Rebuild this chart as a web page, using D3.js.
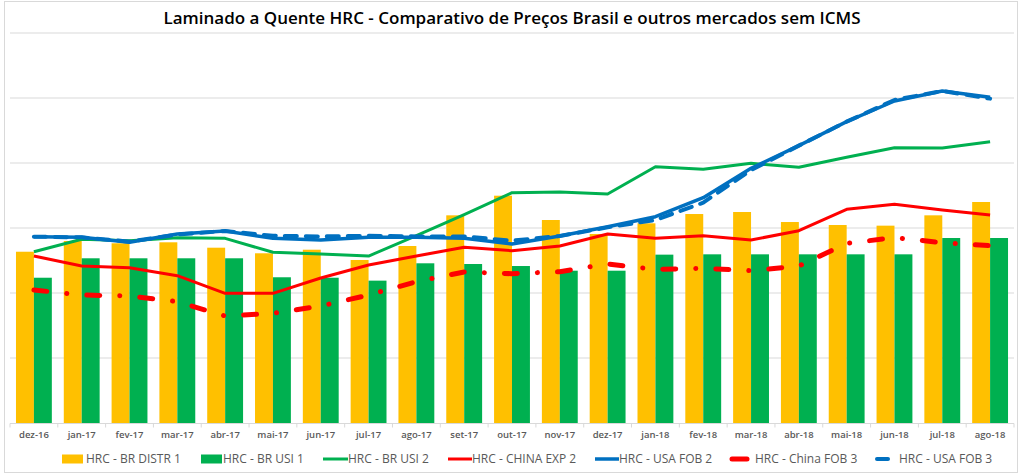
<!DOCTYPE html>
<html><head><meta charset="utf-8">
<script src="https://cdn.jsdelivr.net/npm/d3@7/dist/d3.min.js"></script>
<style>body{margin:0;background:#fff}svg{display:block}</style>
</head><body><svg id="c" width="1024" height="475"></svg>
<script>
const categories = ["dez-16","jan-17","fev-17","mar-17","abr-17","mai-17","jun-17","jul-17","ago-17","set-17","out-17","nov-17","dez-17","jan-18","fev-18","mar-18","abr-18","mai-18","jun-18","jul-18","ago-18"];
const brDistr1 = [2635,2800,2765,2780,2697,2611,2666,2508,2723,3195,3497,3123,2908,3072,3215,3246,3092,3046,3036,3195,3400];
const brUsi1   = [2235,2534,2534,2534,2534,2242,2235,2190,2457,2446,2415,2343,2343,2590,2595,2595,2595,2595,2595,2846,2846];
const brUsi2   = [2635,2826,2805,2851,2841,2626,2600,2569,2882,3205,3543,3554,3523,3943,3903,3995,3934,4088,4236,4231,4328];
const chinaExp2= [2569,2415,2390,2266,1995,1995,2230,2430,2569,2703,2651,2723,2908,2841,2882,2815,2959,3287,3364,3277,3200];
const usaFob2  = [2867,2856,2780,2908,2954,2841,2815,2856,2856,2841,2754,2877,3020,3174,3467,3918,4267,4636,4954,5108,5011];
const chinaFob3= [2046,1969,1954,1867,1646,1687,1800,1969,2174,2323,2297,2328,2446,2364,2380,2343,2415,2764,2851,2774,2728];
const usaFob3  = [2867,2856,2790,2900,2954,2880,2870,2880,2870,2870,2805,2877,3010,3123,3390,3892,4267,4636,4970,5108,4990];
const yTicks = [1000,2000,3000,4000,5000,6000];
const title = "Laminado a Quente HRC - Comparativo de Preços Brasil e outros mercados sem ICMS";

const svg = d3.select("#c");
const font = "'Open Sans', sans-serif";
svg.append("rect").attr("x",4.5).attr("y",1.5).attr("width",1013).attr("height",471).attr("fill","#fff").attr("stroke","#D9D9D9");

const x = d3.scaleBand().domain(categories).range([10,1014]).paddingInner(0.25).paddingOuter(0.125);
const xs = d3.scaleBand().domain(["a","b"]).range([0,x.bandwidth()]);
const y = d3.scaleLinear().domain([0,6000]).range([423,33]);
const cx = c => x(c) + x.bandwidth()/2;

svg.append("g").selectAll("line").data(yTicks).join("line")
  .attr("x1",10).attr("x2",1014).attr("y1",d=>y(d)).attr("y2",d=>y(d))
  .attr("stroke","#D9D9D9").attr("stroke-width",1);

// bars
svg.append("g").selectAll("rect").data(categories).join("rect")
  .attr("x",c=>x(c)+xs("a")).attr("width",xs.bandwidth()).attr("y",(c,i)=>y(brDistr1[i])).attr("height",(c,i)=>y(0)-y(brDistr1[i])).attr("fill","#FFC000");
svg.append("g").selectAll("rect").data(categories).join("rect")
  .attr("x",c=>x(c)+xs("b")).attr("width",xs.bandwidth()).attr("y",(c,i)=>y(brUsi1[i])).attr("height",(c,i)=>y(0)-y(brUsi1[i])).attr("fill","#00B050");

// x axis
const xAxis = d3.axisBottom(x).tickSize(0).tickPadding(8);
const gx = svg.append("g").attr("transform","translate(0,423.5)").call(xAxis);
gx.select(".domain").attr("stroke","#D9D9D9").attr("d","M10,0H1014");
gx.selectAll("text").attr("font-family",font).attr("font-size",9.5).attr("font-weight",600).attr("fill","#595959");
const bounds = d3.range(categories.length+1).map(i=>10+i*(1004/categories.length));
gx.selectAll(".bt").data(bounds).join("line").attr("class","bt").attr("x1",d=>d).attr("x2",d=>d).attr("y1",0).attr("y2",4).attr("stroke","#D9D9D9");

const line = d3.line().x((d,i)=>cx(categories[i])).y(d=>y(d));
const series = [
  {name:"HRC - BR USI 2", data:brUsi2, color:"#00B050", w:3, dash:null},
  {name:"HRC - CHINA EXP 2", data:chinaExp2, color:"#FF0000", w:3, dash:null},
  {name:"HRC - USA FOB 2", data:usaFob2, color:"#0070C0", w:3.5, dash:null},
  {name:"HRC - China FOB 3", data:chinaFob3, color:"#FF0000", w:5, dash:"13,20,0.1,20"},
  {name:"HRC - USA FOB 3", data:usaFob3, color:"#0070C0", w:4, dash:"12,9"}
];
series.forEach(s=>{
  svg.append("path").datum(s.data).attr("d",line).attr("fill","none").attr("stroke",s.color)
    .attr("stroke-width",s.w).attr("stroke-linejoin","round").attr("stroke-linecap",s.dash?"round":"butt")
    .attr("stroke-dasharray",s.dash);
});

// title
svg.append("text").attr("x",512).attr("y",24).attr("text-anchor","middle").attr("font-family",font)
  .attr("font-size",17).attr("font-weight",600).attr("fill","#000").text(title);

// legend
const legend = [
  {name:"HRC - BR DISTR 1", type:"rect", color:"#FFC000", sx:62, sw:21, tx:86},
  {name:"HRC - BR USI 1", type:"rect", color:"#00B050", sx:201, sw:21, tx:223},
  {name:"HRC - BR USI 2", type:"line", color:"#00B050", sx:323, sw:25, tx:348, w:3},
  {name:"HRC - CHINA EXP 2", type:"line", color:"#FF0000", sx:448, sw:24, tx:472, w:3},
  {name:"HRC - USA FOB 2", type:"line", color:"#0070C0", sx:595, sw:24, tx:619, w:3.5},
  {name:"HRC - China FOB 3", type:"dash", color:"#FF0000", sx:732, sw:15, tx:755, w:5},
  {name:"HRC - USA FOB 3", type:"dash", color:"#0070C0", sx:877, sw:11, tx:899, w:4}
];
const lg = svg.append("g");
const ly = 459;
legend.forEach(l=>{
  if(l.type==="rect") lg.append("rect").attr("x",l.sx).attr("y",ly-4.5).attr("width",l.sw).attr("height",9).attr("fill",l.color);
  else lg.append("line").attr("x1",l.sx).attr("x2",l.sx+l.sw).attr("y1",ly).attr("y2",ly).attr("stroke",l.color)
    .attr("stroke-width",l.w).attr("stroke-linecap",l.type==="dash"?"round":"butt");
  lg.append("text").attr("x",l.tx).attr("y",ly).attr("dy","0.35em").attr("font-family",font).attr("font-size",12)
    .attr("fill","#595959").text(l.name);
});
</script></body></html>
